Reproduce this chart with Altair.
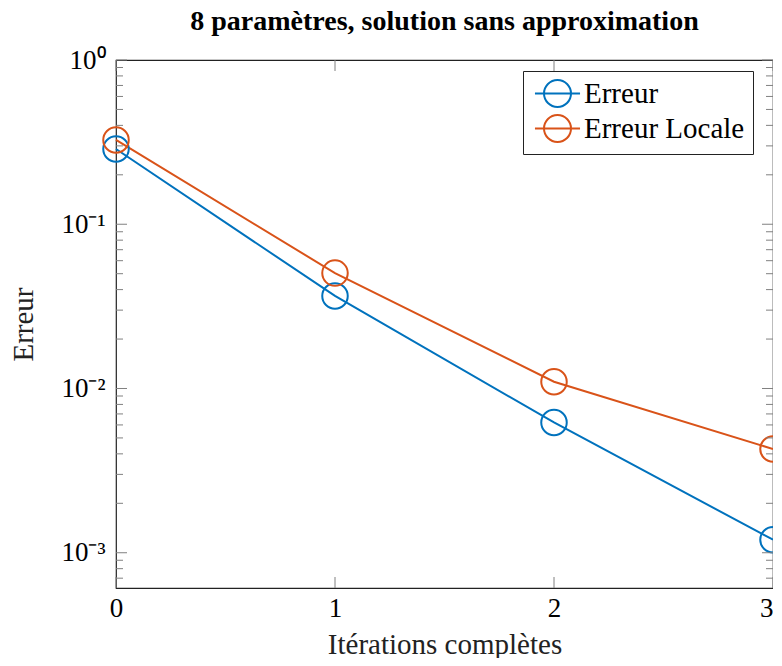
import altair as alt
import pandas as pd

# ---- data ----
iterations = [0, 1, 2, 3]
erreur = [0.287, 0.0366, 0.00621, 0.00120]
erreur_locale = [0.326, 0.0504, 0.0110, 0.00428]
series_names = ["Erreur", "Erreur Locale"]
series_colors = ["#0072BD", "#D95319"]

y_domain = [0.00061, 1.0]
y_major = [1.0, 0.1, 0.01, 0.001]
y_major_labels = ["10⁰", "10⁻¹", "10⁻²", "10⁻³"]
y_minor = [0.0007, 0.0008, 0.0009,
           0.002, 0.003, 0.004, 0.005, 0.006, 0.007, 0.008, 0.009,
           0.02, 0.03, 0.04, 0.05, 0.06, 0.07, 0.08, 0.09,
           0.2, 0.3, 0.4, 0.5, 0.6, 0.7, 0.8, 0.9]
x_ticks = [0, 1, 2, 3]

TITLE = "8 paramètres, solution sans approximation"
X_TITLE = "Itérations complètes"
Y_TITLE = "Erreur"

# ---- layout / style ----
W, H = 657, 528
FONT = "Liberation Serif"
TICK_COLOR = "#808080"
MAJOR, MINOR = 11, 7
FS_TICK, FS_TEXT = 27, 29

df = pd.DataFrame({
    "iter": iterations + iterations,
    "val": erreur + erreur_locale,
    "serie": [series_names[0]] * len(erreur) + [series_names[1]] * len(erreur_locale),
})
df_ymaj = pd.DataFrame({"v": y_major})
df_ymin = pd.DataFrame({"v": y_minor})
df_x = pd.DataFrame({"v": x_ticks})

xscale = alt.Scale(domain=[0, 3], nice=False, zero=False)
yscale = alt.Scale(type="log", domain=y_domain, nice=False)

label_expr = " : ".join(
    f"datum.value == {v} ? '{t}'" for v, t in zip(y_major, y_major_labels)
) + " : ''"

legend_path = "M-1.67,0H1.67M1,0A1,1 0 1,1 -1,0A1,1 0 1,1 1,0"

color = alt.Color(
    "serie:N",
    scale=alt.Scale(domain=series_names, range=series_colors),
    legend=alt.Legend(
        title=None, orient="none", legendX=407, legendY=11,
        symbolType=legend_path, symbolSize=729, symbolStrokeWidth=2,
        symbolFillColor="transparent", symbolOffset=12,
        labelFont=FONT, labelFontSize=FS_TEXT, labelColor="black",
        labelOffset=12, labelLimit=400, labelBaseline="middle",
        padding=8, rowPadding=0, strokeColor="#222222",
        fillColor="white", cornerRadius=0,
    ),
)

x_enc = alt.X(
    "iter:Q", scale=xscale,
    axis=alt.Axis(values=x_ticks, format="d", ticks=False, tickSize=0, grid=False,
                  domain=False, labelFlush=False,
                  labelAlign={"expr": f"datum.value == {x_ticks[-1]} ? 'right' : 'center'"},
                  labelFont=FONT, labelFontSize=FS_TICK,
                  labelColor="black", labelPadding=7, title=X_TITLE, titleFont=FONT,
                  titleFontSize=FS_TEXT, titleFontWeight="normal", titleColor="#222222",
                  titleX=W / 2, titleY=65, titleBaseline="alphabetic"),
)
y_enc = alt.Y(
    "val:Q", scale=yscale,
    axis=alt.Axis(values=y_major, labelExpr=label_expr, ticks=False, tickSize=0,
                  grid=False, domain=False, labelFlush=False, labelFont=FONT,
                  labelFontSize=FS_TICK, labelColor="black", labelPadding=11,
                  title=Y_TITLE, titleFont=FONT, titleFontSize=FS_TEXT,
                  titleFontWeight="normal", titleColor="#222222",
                  titleX=-93, titleY=H / 2, titleAngle=-90, titleBaseline="middle"),
)

base = alt.Chart(df).encode(x=x_enc, y=y_enc, color=color)
lines = base.mark_line(strokeWidth=2)
points = base.mark_point(shape="circle", filled=False, size=650, strokeWidth=2, opacity=1)

# inner ticks (pgfplots style) on all four sides
def yticks(data, x0, x1):
    return alt.Chart(data).mark_rule(color=TICK_COLOR, strokeWidth=1).encode(
        y=alt.Y("v:Q", scale=yscale), x=alt.value(x0), x2=alt.value(x1))

def xticks(data, y0, y1):
    return alt.Chart(data).mark_rule(color=TICK_COLOR, strokeWidth=1).encode(
        x=alt.X("v:Q", scale=xscale), y=alt.value(y0), y2=alt.value(y1))

ticks = [
    yticks(df_ymaj, 0, MAJOR), yticks(df_ymin, 0, MINOR),
    yticks(df_ymaj, W, W - MAJOR), yticks(df_ymin, W, W - MINOR),
    xticks(df_x, H, H - MAJOR), xticks(df_x, 0, MAJOR),
]

chart = alt.layer(lines, points, *ticks).properties(
    width=W, height=H,
    background="white",
    title=alt.TitleParams(TITLE, font=FONT, fontSize=28, fontWeight="bold",
                          color="black", anchor="middle", frame="group",
                          baseline="alphabetic", offset=11, dy=23),
    autosize=alt.AutoSizeParams(type="none"),
    padding={"left": 108, "top": 52, "right": 0, "bottom": 70},
).configure_view(stroke="#222222", strokeWidth=1.2)

chart.save("out.html", embed_options={"renderer": "svg", "actions": False})
